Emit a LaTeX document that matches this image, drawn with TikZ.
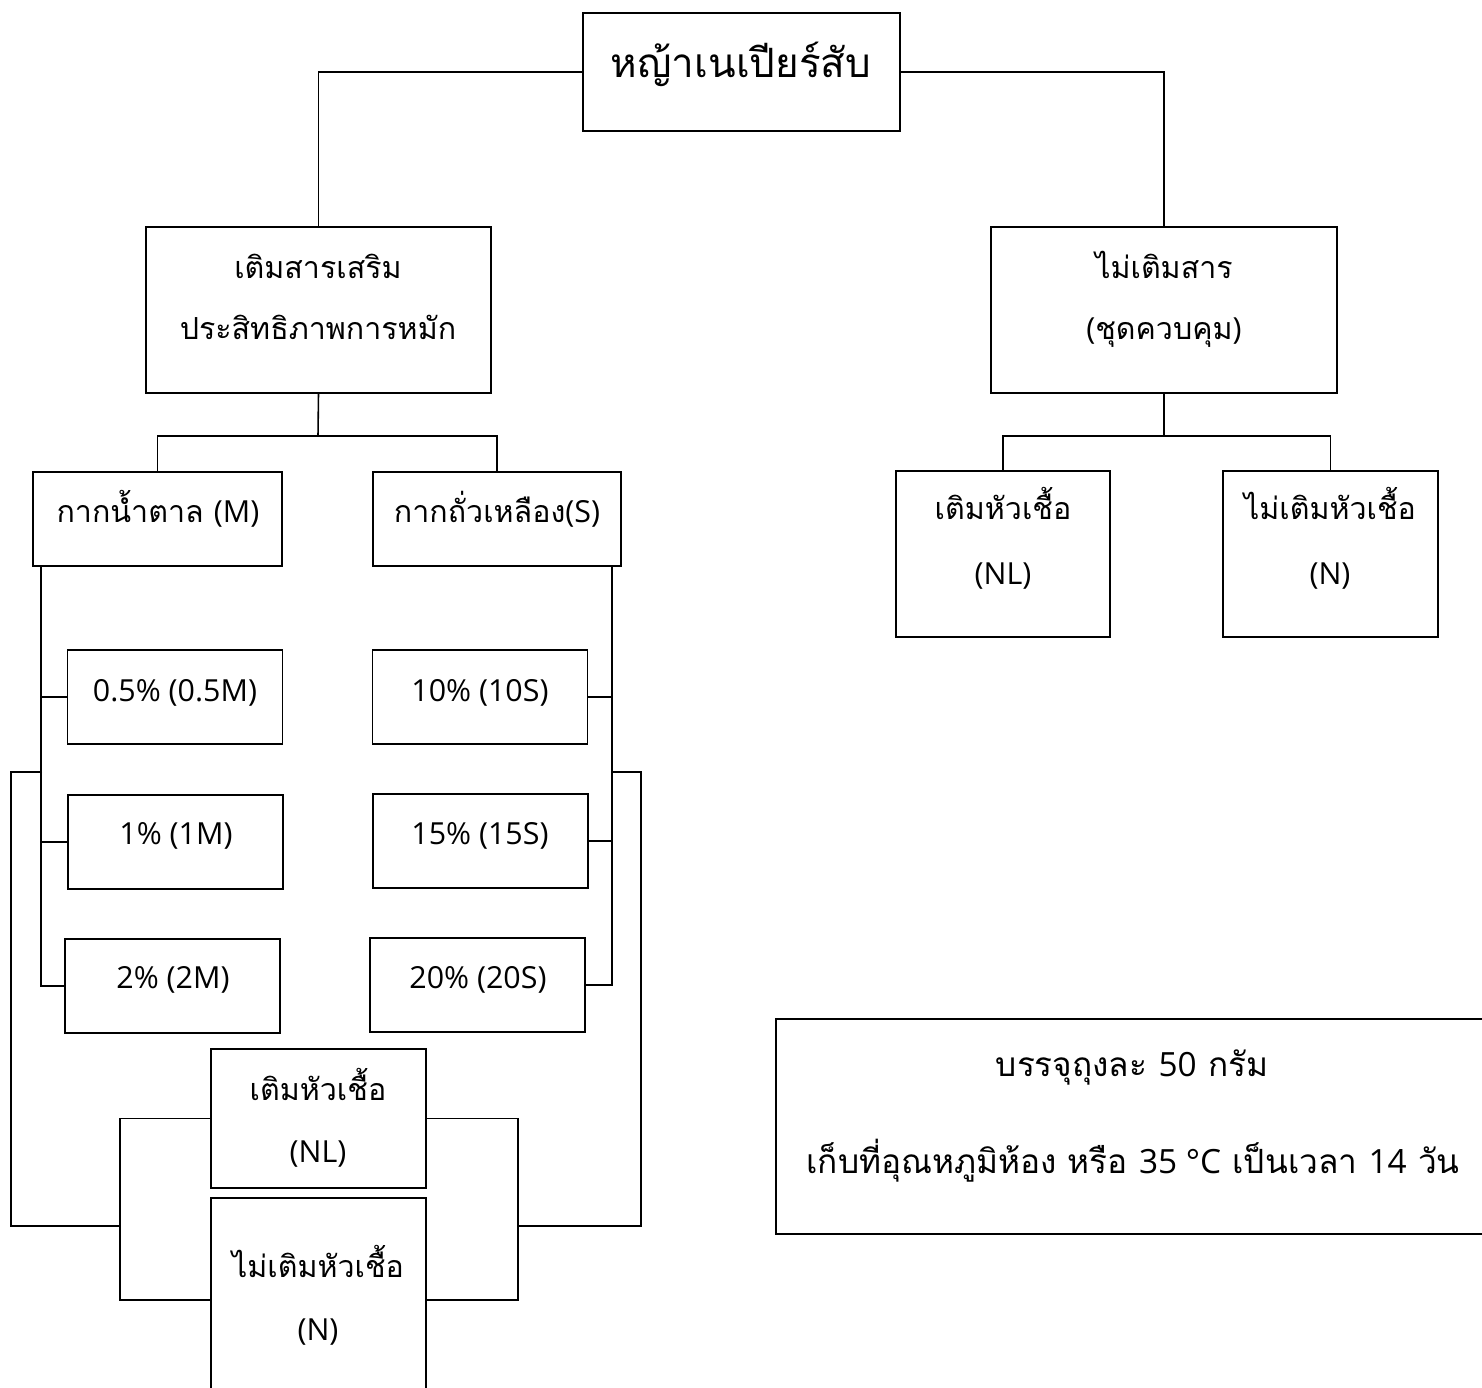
\documentclass[tikz,border=0pt]{standalone}
\usepackage{fontspec}
\newfontfamily\thaifont[Script=Thai]{Loma}
\newfontfamily\latfont{Open Sans}
\newcommand{\lat}[1]{{\latfont #1}}
\usetikzlibrary{calc, positioning}

\begin{document}
\begin{tikzpicture}[x=0.02cm, y=-0.02cm]
    \tikzset{
      box/.style={draw, line width=0.9pt, inner sep=0pt},
      pick/.style={box, minimum width=4.3cm, minimum height=1.88cm},
      link/.style={draw, line width=0.9pt},
      words/.style={anchor=base, inner sep=0pt,
        font=\thaifont\fontsize{17.3}{21}\selectfont},
      notewords/.style={words, font=\thaifont\fontsize{19}{23}\selectfont},
      headline/.style={words, font=\thaifont\fontsize{23}{28}\selectfont},
    }
    \useasboundingbox (0,0) rectangle (1482,1388);
    \clip (0,0) rectangle (1482,1388);

    % top levels
    \node[box, minimum width=6.34cm, minimum height=2.36cm] (grass) at (741.5,72) {};
    \node[headline] (grass-t) at (741,78) {หญ้าเนเปียร์สับ};

    \node[box, minimum width=6.9cm, minimum height=3.32cm] (add) at (318.5,310) {};
    \node[words] (add-t1) at (318,279) {เติมสารเสริม};
    \node[words] (add-t2) at (318,340) {ประสิทธิภาพการหมัก};

    \node[box, minimum width=6.92cm, minimum height=3.32cm] (ctrl) at (1164,310) {};
    \node[words] (ctrl-t1) at (1164,279) {ไม่เติมสาร};
    \node[words] (ctrl-t2) at (1164,340) {\lat{(}ชุดควบคุม\lat{)}};

    \draw[link] (grass.west) -| (add.north);
    \draw[link] (grass.east) -| (ctrl.north);

    % additives
    \node[box, minimum width=4.98cm, minimum height=1.88cm] (mol) at (157.5,519) {};
    \node[words] (mol-t) at (158,523) {กากน้ำตาล \lat{(M)}};
    \node[box, minimum width=4.96cm, minimum height=1.88cm] (soy) at (497,519) {};
    \node[words] (soy-t) at (497,523) {กากถั่วเหลือง\lat{(S)}};

    \coordinate (addfork) at (318,436);
    \draw[link] (add.south) -- (addfork);
    \draw[link] (mol.north) |- (addfork) -| (soy.north);

    % control
    \node[box, minimum width=4.28cm, minimum height=3.32cm] (ctrlL) at (1003,554) {};
    \node[words] (ctrlL-t1) at (1003,520) {เติมหัวเชื้อ};
    \node[words] (ctrlL-t2) at (1003,585) {\lat{(NL)}};
    \node[box, minimum width=4.3cm, minimum height=3.32cm] (ctrlN) at (1330.5,554) {};
    \node[words] (ctrlN-t1) at (1330,520) {ไม่เติมหัวเชื้อ};
    \node[words] (ctrlN-t2) at (1330,585) {\lat{(N)}};

    \coordinate (ctrlfork) at (1164,436);
    \draw[link] (ctrl.south) -- (ctrlfork);
    \draw[link] (ctrlL.north) |- (ctrlfork) -| (ctrlN.north);

    % molasses levels
    \node[pick] (m05) at (175,697) {};
    \node[words] (m05-t) at (175,702) {\lat{0.5\% (0.5M)}};
    \node[pick] (m1) at (175.5,842) {};
    \node[words] (m1-t) at (176,845) {\lat{1\% (1M)}};
    \node[pick] (m2) at (172.5,986) {};
    \node[words] (m2-t) at (173,989) {\lat{2\% (2M)}};

    \coordinate (molstem) at ($(mol.south west)+(9,0)$);
    \draw[link] (molstem) |- (m2.west);
    \draw[link] (m05.west) -- (m05.west -| molstem);
    \draw[link] (m1.west) -- (m1.west -| molstem);

    % soybean levels
    \node[pick] (s10) at (480,697) {};
    \node[words] (s10-t) at (480,702) {\lat{10\% (10S)}};
    \node[pick] (s15) at (480.5,841) {};
    \node[words] (s15-t) at (480,845) {\lat{15\% (15S)}};
    \node[pick] (s20) at (477.5,985) {};
    \node[words] (s20-t) at (478,989) {\lat{20\% (20S)}};

    \coordinate (soystem) at ($(soy.south east)+(-10,0)$);
    \draw[link] (soystem) |- (s20.east);
    \draw[link] (s10.east) -- (s10.east -| soystem);
    \draw[link] (s15.east) -- (s15.east -| soystem);

    % inoculum
    \node[box, minimum width=4.3cm, minimum height=2.78cm] (inoc) at (318.5,1118.5) {};
    \node[words] (inoc-t1) at (318,1100) {เติมหัวเชื้อ};
    \node[words] (inoc-t2) at (318,1162) {\lat{(NL)}};
    \node[box, minimum width=4.3cm, minimum height=4.08cm] (noinoc) at (318.5,1300) {};
    \node[words] (noinoc-t1) at (318,1277) {ไม่เติมหัวเชื้อ};
    \node[words] (noinoc-t2) at (318,1340) {\lat{(N)}};

    \coordinate (lfork) at (120,1226);
    \coordinate (rfork) at (518,1226);
    \coordinate (lsplit) at (42,772);
    \coordinate (rsplit) at (611,772);
    \draw[link] (inoc.west) -| (lfork) |- (noinoc.west);
    \draw[link] (inoc.east) -| (rfork) |- (noinoc.east);
    \draw[link] (lsplit) -- ++(-31,0) |- (lfork);
    \draw[link] (rsplit) -- ++(30,0) |- (rfork);

    % storage note
    \node[box, minimum width=14.56cm, minimum height=4.3cm] (store) at (1140,1126.5) {};
    \node[notewords] (store-t1) at (1132,1076) {บรรจุถุงละ \lat{50} กรัม};
    \node[notewords] (store-t2) at (1133,1173) {เก็บที่อุณหภูมิห้อง หรือ \lat{35 °C} เป็นเวลา \lat{14} วัน};
\end{tikzpicture}
\end{document}
